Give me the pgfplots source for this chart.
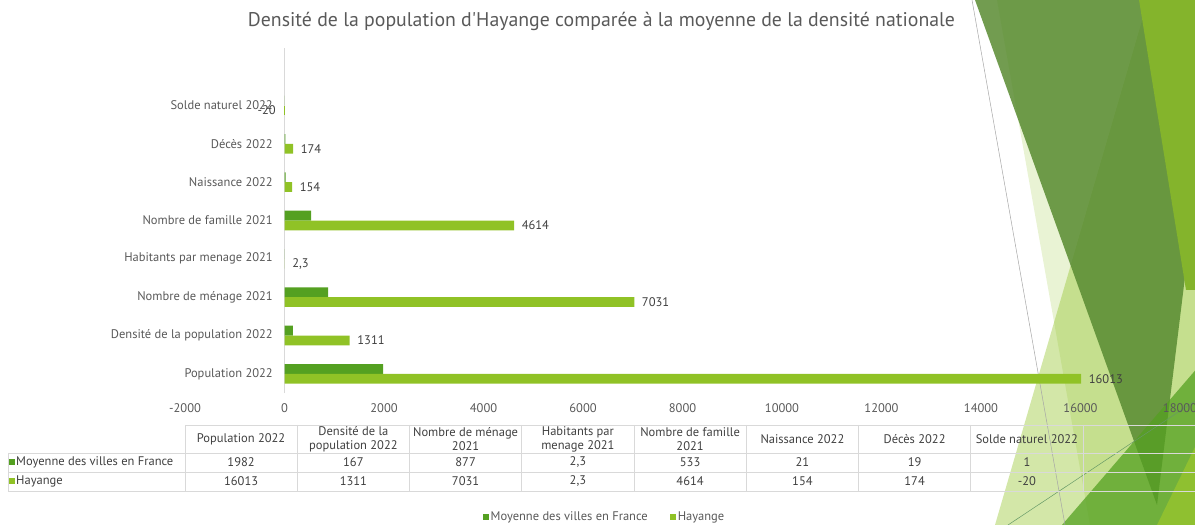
\documentclass[border=0pt]{standalone}
\usepackage{pgfplots}
\pgfplotsset{compat=1.18}
\usepackage{pgfplotstable}
\usepackage{fontspec}
\setmainfont{PT Sans}
\definecolor{dkg}{HTML}{54A021}
\definecolor{ltg}{HTML}{90C226}
\definecolor{txt}{HTML}{595959}
\definecolor{lbl}{HTML}{404040}
\definecolor{grd}{HTML}{D9D9D9}
\definecolor{decA}{RGB}{89,139,49}
\definecolor{decE}{RGB}{132,180,44}
\definecolor{decF}{RGB}{143,192,48}

\pgfplotstableread{
y moy hay hlab
0 1982 16013 16013
1 167 1311 1311
2 877 7031 7031
3 2.3 2.3 2,3
4 533 4614 4614
5 21 154 154
6 19 174 174
7 1 -20 -20
}\datatable

\newcommand{\fs}{\fontsize{12.5bp}{14bp}\selectfont}

\begin{document}
\begin{tikzpicture}
\path[use as bounding box] (0,0) rectangle (1195bp,525bp);
% decorative background triangles
\begin{scope}
\clip (0,0) rectangle (1195bp,525bp);
\fill[ltg, opacity=0.2] (997bp,525bp) -- (1195bp,525bp) -- (1195bp,0bp) -- (1090bp,0bp) -- cycle;
\fill[ltg, opacity=0.4] (1148bp,525bp) -- (1195bp,525bp) -- (1195bp,0bp) -- (995bp,0bp) -- cycle;
\fill[decA, opacity=0.85] (975bp,525bp) -- (1219bp,525bp) -- (1157bp,20bp) -- cycle;
\fill[decE] (1139bp,525bp) -- (1195bp,525bp) -- (1195bp,235bp) -- (1186bp,235bp) -- cycle;
\fill[dkg, opacity=0.75] (1062bp,0bp) -- (1230bp,195bp) -- (1230bp,0bp) -- cycle;
\fill[decF] (1157bp,0bp) -- (1195bp,78bp) -- (1195bp,0bp) -- cycle;
\draw[gray!70, line width=0.5bp] (972bp,525bp) -- (1065bp,0bp);
\draw[gray!50!green!40!gray, line width=0.5bp] (1008bp,0bp) -- (1195bp,124bp);
\end{scope}

\begin{axis}[
  at={(185bp,132bp)}, anchor=south west,
  scale only axis, width=995bp, height=345bp,
  xbar, bar width=9.8bp,
  xmin=-2000, xmax=18000, ymin=-0.5, ymax=8.5,
  xtick={-2000,0,...,18000},
  scaled x ticks=false,
  ytick={0,...,7},
  yticklabels={Population 2022, Densité de la population 2022, Nombre de ménage 2021, Habitants par menage 2021, Nombre de famille 2021, Naissance 2022, Décès 2022, Solde naturel 2022},
  axis line style={draw=none},
  tick style={draw=none},
  major tick length=0pt,
  /pgf/number format/1000 sep={},
  /pgf/number format/assume math mode=true,
  xticklabel style={font=\fs, text=txt, inner sep=0pt, anchor=north, yshift=-10bp},
  yticklabel style={font=\fs, text=txt, inner sep=0pt, anchor=east, xshift=88bp},
  extra x ticks={0}, extra x tick labels={},
  extra x tick style={grid=major, major grid style={grd, line width=0.75bp}},
  legend image code/.code={\fill[#1] (0bp,-3bp) rectangle (6bp,3bp);},
  legend style={at={(0.4216,-0.359)}, anchor=center, draw=none, fill=none,
    legend columns=2, font=\fs, text=txt, inner sep=0pt,
    /tikz/every even column/.append style={column sep=20bp}},
  legend cell align=left,
]
\addplot[fill=dkg, draw=none, bar shift=4.9bp] table[x=moy, y=y]{\datatable};
\addlegendentry{Moyenne des villes en France}
\addplot[fill=ltg, draw=none, bar shift=-4.9bp,
  skip coords between index={7}{8},
  nodes near coords, point meta=explicit symbolic,
  every node near coord/.append style={anchor=west, font=\fs, text=lbl,
    inner xsep=7.5bp, inner ysep=0pt}]
  table[x=hay, y=y, meta=hlab]{\datatable};
\addlegendentry{Hayange}
\addplot[fill=ltg, draw=none, bar shift=-4.9bp, forget plot,
  skip coords between index={0}{7},
  nodes near coords, point meta=explicit symbolic,
  every node near coord/.append style={anchor=east, font=\fs, text=lbl,
    inner xsep=7.5bp, inner ysep=0pt}]
  table[x=hay, y=y, meta=hlab]{\datatable};
\end{axis}

% title
\node[anchor=base, font=\fontsize{19.8bp}{22bp}\selectfont, text=txt] at (601.5bp,498bp)
  {Densité de la population d\textquotesingle Hayange comparée à la moyenne de la densité nationale};

% data table
\begin{scope}[grd, line width=0.75bp]
\draw (185bp,100bp) -- (1195bp,100bp);
\draw (8bp,72bp) -- (1195bp,72bp);
\draw (8bp,53bp) -- (1195bp,53bp);
\draw (8bp,34bp) -- (1195bp,34bp);
\draw (8bp,72bp) -- (8bp,34bp);
\foreach \k in {0,...,8} {
  \pgfmathsetmacro{\xx}{185+112.25*\k}
  \draw (\xx bp,100bp) -- (\xx bp,34bp);
}
\end{scope}
\begin{scope}[every node/.style={font=\fs, text=lbl, align=center, inner sep=0pt}]
\node at (241.1bp,86bp) {Population 2022};
\node at (353.4bp,86bp) {Densité de la\\population 2022};
\node at (465.6bp,86bp) {Nombre de ménage\\2021};
\node at (577.9bp,86bp) {Habitants par\\menage 2021};
\node at (690.1bp,86bp) {Nombre de famille\\2021};
\node at (802.4bp,86bp) {Naissance 2022};
\node at (914.6bp,86bp) {Décès 2022};
\node at (1026.9bp,86bp) {Solde naturel 2022};
\node at (241.1bp,63bp) {1982};
\node at (353.4bp,63bp) {167};
\node at (465.6bp,63bp) {877};
\node at (577.9bp,63bp) {2,3};
\node at (690.1bp,63bp) {533};
\node at (802.4bp,63bp) {21};
\node at (914.6bp,63bp) {19};
\node at (1026.9bp,63bp) {1};
\node at (241.1bp,44bp) {16013};
\node at (353.4bp,44bp) {1311};
\node at (465.6bp,44bp) {7031};
\node at (577.9bp,44bp) {2,3};
\node at (690.1bp,44bp) {4614};
\node at (802.4bp,44bp) {154};
\node at (914.6bp,44bp) {174};
\node at (1026.9bp,44bp) {-20};
\fill[dkg] (9bp,60bp) rectangle (15bp,66bp);
\fill[ltg] (9bp,41bp) rectangle (15bp,47bp);
\node[anchor=west] at (16bp,63bp) {Moyenne des villes en France};
\node[anchor=west] at (16bp,44bp) {Hayange};
\end{scope}
\end{tikzpicture}
\end{document}
